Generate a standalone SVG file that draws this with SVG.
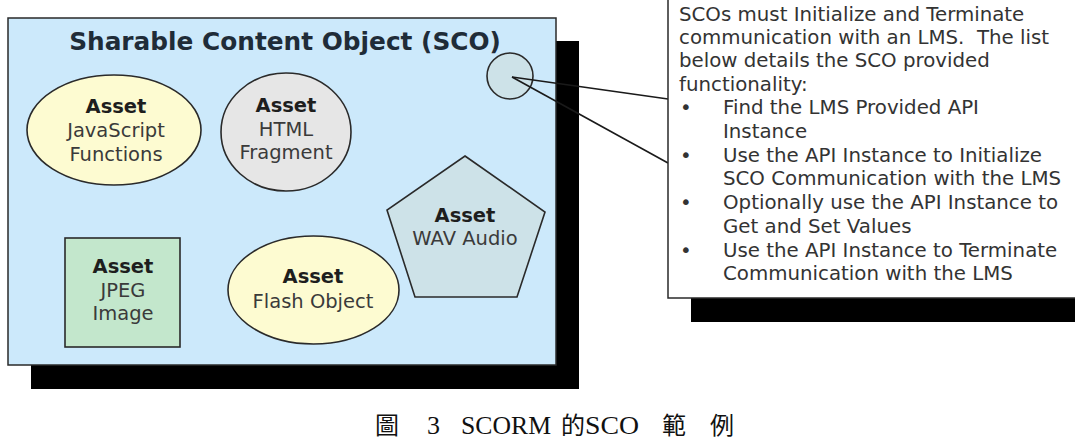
<svg xmlns="http://www.w3.org/2000/svg" width="1075" height="441" viewBox="0 0 1075 441">
<style>
.shadow{fill:#000}
.frame{stroke:#2a2a2a;stroke-width:1.5}
.node{stroke:#2a2a2a;stroke-width:1.6}
.t{font-family:"DejaVu Sans",Verdana,sans-serif;font-size:19.5px;fill:#3a3a3a;text-anchor:middle}
.b{font-weight:bold;fill:#1e1e1e}
.title{font-family:"DejaVu Sans",Verdana,sans-serif;font-size:24.8px;font-weight:bold;fill:#1f2c38;text-anchor:middle}
.c{font-family:"DejaVu Sans",Verdana,sans-serif;font-size:19.8px;fill:#333;white-space:pre}
.conn{stroke:#1a1a1a;stroke-width:1.6;fill:none}
.cap{font-family:"Liberation Serif","Noto Sans CJK TC",serif;font-size:26px;fill:#111}
.cjk{font-family:"Noto Sans CJK TC",sans-serif;font-size:24px}
</style>
<rect width="1075" height="441" fill="#fff"/>

<g id="sco">
  <rect class="shadow" x="31" y="41" width="548" height="348"/>
  <rect class="frame" x="8" y="18" width="548" height="347" fill="#cce9fb"/>
  <text class="title" x="285" y="50">Sharable Content Object (SCO)</text>
</g>

<g id="asset-js">
  <ellipse class="node" cx="114" cy="130" rx="87" ry="55" fill="#fdfbd1"/>
  <text class="t b" x="116" y="113">Asset</text>
  <text class="t" x="116" y="137">JavaScript</text>
  <text class="t" x="116" y="161">Functions</text>
</g>

<g id="asset-html">
  <ellipse class="node" cx="286" cy="132" rx="65" ry="59" fill="#e6e6e6"/>
  <text class="t b" x="286" y="112">Asset</text>
  <text class="t" x="286" y="136">HTML</text>
  <text class="t" x="286" y="159">Fragment</text>
</g>

<g id="asset-wav">
  <polygon class="node" points="465,156 545,212 517,297 415,297 387,210" fill="#cde2e8"/>
  <text class="t b" x="465" y="222">Asset</text>
  <text class="t" x="465" y="245">WAV Audio</text>
</g>

<g id="asset-jpeg">
  <rect class="node" x="65" y="238" width="115" height="109" fill="#c3e7cc"/>
  <text class="t b" x="123" y="273">Asset</text>
  <text class="t" x="123" y="297">JPEG</text>
  <text class="t" x="123" y="320">Image</text>
</g>

<g id="asset-flash">
  <ellipse class="node" cx="313.5" cy="290" rx="85.5" ry="54" fill="#fdfbd1"/>
  <text class="t b" x="313" y="283">Asset</text>
  <text class="t" x="313" y="308">Flash Object</text>
</g>

<g id="api-point">
  <circle class="node" cx="510" cy="76" r="23" fill="#cde2e8"/>
</g>

<g id="connectors">
  <line class="conn" x1="512" y1="77" x2="668" y2="99"/>
  <line class="conn" x1="512" y1="77" x2="668" y2="163"/>
</g>

<g id="callout">
  <rect class="shadow" x="691" y="22" width="400" height="300"/>
  <rect class="frame" x="668" y="-2" width="420" height="300" fill="#fff"/>
  <text class="c" x="679" y="21">SCOs must Initialize and Terminate</text>
  <text class="c" x="679" y="44">communication with an LMS.  The list</text>
  <text class="c" x="679" y="67">below details the SCO provided</text>
  <text class="c" x="679" y="91">functionality:</text>
  <text class="c" x="680" y="114">•</text>
  <text class="c" x="723" y="114">Find the LMS Provided API</text>
  <text class="c" x="723" y="138">Instance</text>
  <text class="c" x="680" y="162">•</text>
  <text class="c" x="723" y="162">Use the API Instance to Initialize</text>
  <text class="c" x="723" y="185">SCO Communication with the LMS</text>
  <text class="c" x="680" y="209">•</text>
  <text class="c" x="723" y="209">Optionally use the API Instance to</text>
  <text class="c" x="723" y="233">Get and Set Values</text>
  <text class="c" x="680" y="257">•</text>
  <text class="c" x="723" y="257">Use the API Instance to Terminate</text>
  <text class="c" x="723" y="280">Communication with the LMS</text>
</g>

<g id="caption">
  <text class="cap" y="434"><tspan class="cjk" x="375">圖</tspan><tspan x="427">3</tspan><tspan x="461" textLength="90" lengthAdjust="spacingAndGlyphs">SCORM</tspan><tspan class="cjk" x="561">的</tspan><tspan x="585" textLength="54" lengthAdjust="spacingAndGlyphs">SCO</tspan><tspan class="cjk" x="662">範</tspan><tspan class="cjk" x="710">例</tspan></text>
</g>
</svg>
